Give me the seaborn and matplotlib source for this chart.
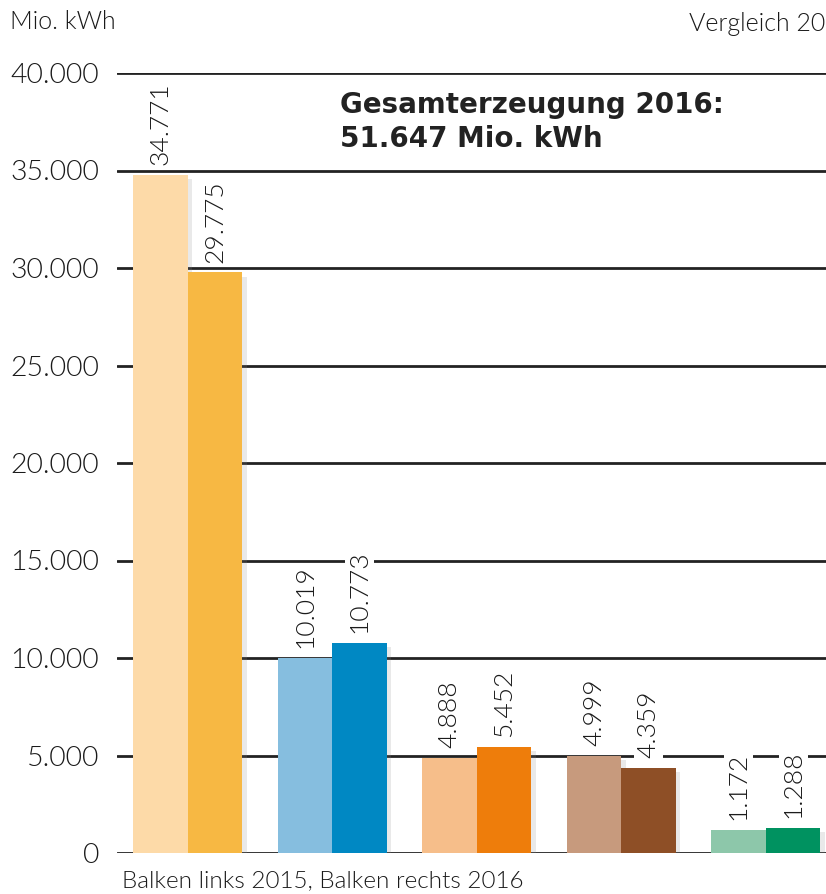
import matplotlib
matplotlib.use("Agg")
import matplotlib.pyplot as plt
import matplotlib.patheffects as pe
import seaborn as sns
import pandas as pd

categories = ["A", "B", "C", "D", "E"]
values_2015 = [34771, 10019, 4888, 4999, 1172]
values_2016 = [29775, 10773, 5452, 4359, 1288]
labels_2015 = ["34.771", "10.019", "4.888", "4.999", "1.172"]
labels_2016 = ["29.775", "10.773", "5.452", "4.359", "1.288"]
colors_2015 = ["#FDDAA8", "#86BEDF", "#F6BE8A", "#C79A7D", "#8DC7AA"]
colors_2016 = ["#F7B843", "#0088C3", "#EE7D0B", "#8E4F26", "#009260"]
yticks = [0, 5000, 10000, 15000, 20000, 25000, 30000, 35000, 40000]
ytick_labels = ["0", "5.000", "10.000", "15.000", "20.000", "25.000", "30.000", "35.000", "40.000"]

sns.set_theme(style="white")
plt.rcParams["font.family"] = ["Lato", "DejaVu Sans"]
LW = 300

df = pd.DataFrame({
    "cat": categories * 2,
    "year": ["2015"] * 5 + ["2016"] * 5,
    "val": values_2015 + values_2016,
})

fig = plt.figure(figsize=(8.26, 8.94), dpi=100)
ax = fig.add_axes([117 / 826, (894 - 853) / 894, (826 - 117) / 826 + 0.2, 780 / 894])

sns.barplot(data=df, x="cat", y="val", hue="year", ax=ax, width=0.754, gap=0,
            palette=["#cccccc", "#888888"], legend=False, saturation=1, zorder=3)

pal = colors_2015 + colors_2016
lbls = labels_2015 + labels_2016
shadow = [pe.SimplePatchShadow(offset=(3, -3), shadow_rgbFace="#888888", alpha=0.18), pe.Normal()]
for i, p in enumerate(ax.patches[:10]):
    p.set_facecolor(pal[i])
    p.set_edgecolor("none")
    p.set_path_effects(shadow)
    x = p.get_x() + p.get_width() / 2
    h = p.get_height()
    ax.annotate(lbls[i], (x, h), xytext=(0, 7), textcoords="offset points",
                rotation=90, ha="center", va="bottom", fontsize=19, fontweight=LW,
                color="#1a1a1a", zorder=5,
                bbox=dict(boxstyle="square,pad=0.1", fc="white", ec="none"))

ax.set_xlim(-0.491, -0.491 + (826 - 117) / 144.5 * (1 + 0.2 * 826 / (826 - 117)))
ax.set_ylim(0, 40000)
ax.set_yticks(yticks)
ax.set_yticklabels(ytick_labels, fontsize=20.5, color="#1a1a1a", fontweight=LW)
ax.tick_params(axis="y", length=0, pad=13)
ax.set_xticks([])
ax.set_xlabel("")
ax.set_ylabel("")
for s in ax.spines.values():
    s.set_visible(False)
ax.grid(False)
for y in yticks:
    ax.axhline(y, color="#222222", lw=2, zorder=1)

fig.text(10 / 826, 1 - 22 / 894, "Mio. kWh", fontsize=18, color="#1a1a1a",
         ha="left", va="center", fontweight=LW)
fig.text(825 / 826, 1 - 24 / 894, "Vergleich 20", fontsize=18, color="#1a1a1a",
         ha="right", va="center", fontweight=LW)
fig.text(340 / 826, 1 - 122 / 894, "Gesamterzeugung 2016:\n51.647 Mio. kWh", fontsize=20,
         fontweight="bold", family=["DejaVu Sans"], color="#222222", ha="left", va="center",
         linespacing=1.25)
fig.text(122 / 826, 1 - 881 / 894, "Balken links 2015, Balken rechts 2016", fontsize=17.5,
         color="#1a1a1a", ha="left", va="center", fontweight=LW)

fig.savefig("out.png", dpi=100)
